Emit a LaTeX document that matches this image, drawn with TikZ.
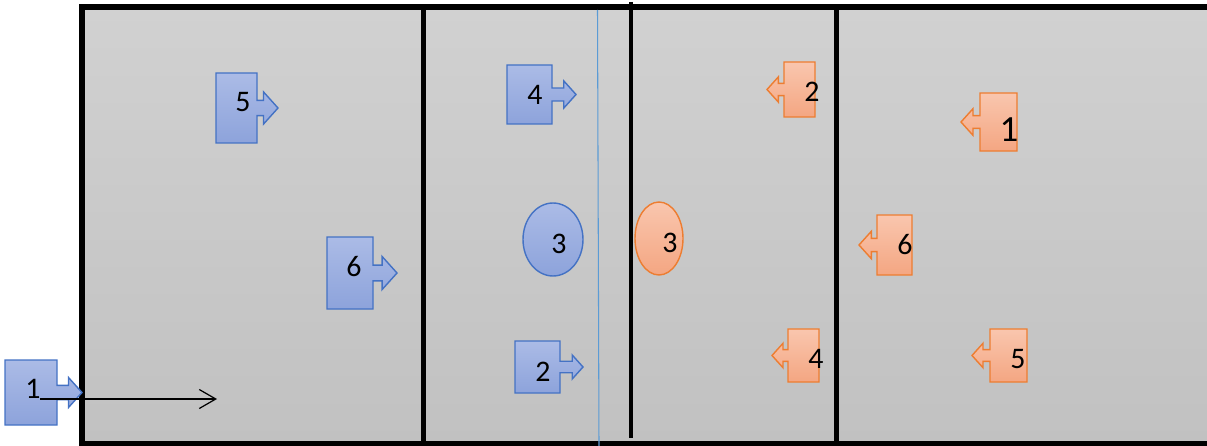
\documentclass[tikz,border=0pt]{standalone}
\usepackage{fontspec}
\setmainfont{Carlito}
\usepackage{tikz}
\usetikzlibrary{arrows.meta}
\definecolor{teamblue}{RGB}{68, 114, 196}
\definecolor{bluetop}{RGB}{171, 187, 230}
\definecolor{bluebot}{RGB}{141, 163, 219}
\definecolor{teamorange}{RGB}{237, 125, 49}
\definecolor{orangetop}{RGB}{249, 198, 174}
\definecolor{orangebot}{RGB}{244, 166, 130}
\definecolor{courttop}{RGB}{209, 209, 209}
\definecolor{courtbot}{RGB}{193, 193, 193}
\definecolor{centreblue}{RGB}{91, 155, 213}

%% player shape: style, name, back x, top y, front x, bottom y, tip x
\newcommand{\player}[7]{%
  \pgfmathsetmacro\pmid{(#4+#6)/2}%
  \pgfmathsetmacro\pshaft{0.11*(#6-#4)}%
  \pgfmathsetmacro\phead{0.23*(#6-#4)}%
  \pgfmathsetmacro\pbase{#7-0.9*\phead*sign(#7-#5)}%
  \pgfmathsetmacro\pya{\pmid-\pshaft}%
  \pgfmathsetmacro\pyb{\pmid+\pshaft}%
  \pgfmathsetmacro\pyc{\pmid-\phead}%
  \pgfmathsetmacro\pyd{\pmid+\phead}%
  \draw[#1] (#3,#4) -- (#5,#4) -- (#5,\pya) -- (\pbase,\pya) -- (\pbase,\pyc)
    -- (#7,\pmid) -- (\pbase,\pyd) -- (\pbase,\pyb) -- (#5,\pyb) -- (#5,#6)
    -- (#3,#6) -- cycle;
  \coordinate (#2) at (#7,\pmid);
}

\tikzset{
  blueplayer/.style={draw=teamblue, line width=0.8pt, line join=miter,
    top color=bluetop, bottom color=bluebot},
  orangeplayer/.style={draw=teamorange, line width=0.8pt, line join=miter,
    top color=orangetop, bottom color=orangebot},
  num/.style={font=\fontsize{17}{20}\selectfont, inner sep=0pt},
  courtline/.style={line width=2.9pt, line join=miter}
}

\begin{document}
\begin{tikzpicture}[x=0.02cm, y=-0.02cm]
    \useasboundingbox (0,0) rectangle (1207,446);

    %% court
    \shade[top color=courttop, bottom color=courtbot] (82,7) rectangle (1207,444);
    \draw[courtline] (1207,7) -- (82,7) -- (82,444) -- (1207,444);
    \draw[courtline] (423.5,7) -- (423.5,444);
    \draw[courtline] (836.5,7) -- (836.5,444);
    \draw[line width=2.3pt] (631,2) -- (631,438);
    \draw[centreblue, line width=0.6pt] (597.5,10) -- (599,446);

    %% blue team
    \player{blueplayer}{bt1}{5}{360}{57}{425}{82}
    \player{blueplayer}{bt5}{216}{73}{257}{143}{278}
    \player{blueplayer}{bt4}{507}{65}{552}{124}{576}
    \player{blueplayer}{bt6}{327}{237}{373}{309}{397}
    \player{blueplayer}{bt2}{515}{341}{560}{393}{583}
    \draw[blueplayer] (553,239.5) ellipse [x radius=0.6cm, y radius=0.73cm];
    \node[num] (b1) at (33,389) {1};
    \node[num] (b5) at (243,102) {5};
    \node[num] (b4) at (535,95) {4};
    \node[num] (b6) at (354,267) {6};
    \node[num] (b2) at (543,372) {2};
    \node[num] (b3) at (559,244) {3};

    %% orange team
    \player{orangeplayer}{ot2}{815}{62}{784}{117}{767}
    \player{orangeplayer}{ot1}{1017}{93}{980}{151}{961}
    \player{orangeplayer}{ot6}{912}{215}{877}{275}{859}
    \player{orangeplayer}{ot4}{819}{329}{788}{382}{772}
    \player{orangeplayer}{ot5}{1027}{329}{990}{382}{972}
    \draw[orangeplayer] (659,238.5) ellipse [x radius=0.48cm, y radius=0.73cm];
    \node[num] (o2) at (812,91.5) {2};
    \node[num, font=\fontsize{21}{24}\selectfont] (o1) at (1009,130) {1};
    \node[num] (o6) at (905,245) {6};
    \node[num] (o4) at (816,359) {4};
    \node[num] (o5) at (1018,359) {5};
    \node[num] (o3) at (670,243) {3};

    %% serve
    \coordinate (servefrom) at (40,399);
    \coordinate (serveto) at (217,399);
    \draw[line width=0.7pt, -{Straight Barb[length=3.3mm, width=3.8mm]}] (servefrom) -- (serveto);
\end{tikzpicture}
\end{document}
